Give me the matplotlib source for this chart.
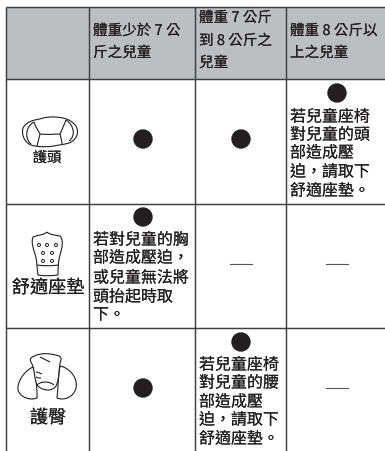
import matplotlib
matplotlib.use("Agg")
import matplotlib.pyplot as plt
from matplotlib.patches import Circle, Rectangle, Ellipse
from matplotlib.path import Path
from matplotlib.patches import PathPatch
import matplotlib.patheffects as pe

plt.rcParams['font.family'] = ['Noto Sans CJK TC', 'DejaVu Sans']
W, H = 385, 451
INK = '#231f20'
LINE = '#3f3f3f'
HEAD = '#bcbec0'

col_x = [6, 89, 195, 286]
row_y = [6.5, 79, 204, 328]

headers = [
    ["體重少於 7 公", "斤之兒童"],
    ["體重 7 公斤", "到 8 公斤之", "兒童"],
    ["體重 8 公斤以", "上之兒童"],
]
header_y = [[31, 53], [18, 41, 63], [31, 53]]
header_x = [93, 199, 290]

row_labels = ["護頭", "舒適座墊", "護臀"]
row_label_pos = [(47, 158), (48, 288), (48, 418)]
row_label_sizes = [10.3, 13.1, 13.1]

dots = [(143, 139), (241, 139), (337, 93), (143, 217), (143, 388), (241, 342)]
dashes = [(241, 264), (337, 264), (337, 388)]

notes = [
    (290, [117, 135, 153, 172, 191], ["若兒童座椅", "對兒童的頭", "部造成壓", "迫，請取下", "舒適座墊。"]),
    (93, [240, 258, 278, 297, 315], ["若對兒童的胸", "部造成壓迫，", "或兒童無法將", "頭抬起時取", "下。"]),
    (199, [365, 383, 402, 420, 439], ["若兒童座椅", "對兒童的腰", "部造成壓", "迫，請取下", "舒適座墊。"]),
]

fig = plt.figure(figsize=(W / 100, H / 100), dpi=100)
ax = fig.add_axes([0, 0, 1, 1])
ax.set_xlim(0, W)
ax.set_ylim(H, 0)
ax.axis('off')

ax.add_patch(Rectangle((col_x[0], row_y[0]), W - col_x[0], row_y[1] - row_y[0], fc=HEAD, ec='none', zorder=0))
for x in col_x:
    ax.plot([x, x], [row_y[0], H], color=LINE, lw=1.05, zorder=2, solid_capstyle='butt')
for y in row_y:
    ax.plot([col_x[0], W], [y, y], color=LINE, lw=1.05, zorder=2, solid_capstyle='butt')

heavier = [pe.withStroke(linewidth=0.08, foreground=INK)]
for x, ys, lines in zip(header_x, header_y, headers):
    for y, s in zip(ys, lines):
        ax.text(x, y, s, fontsize=10.5, color=INK, ha='left', va='center', path_effects=heavier)
for x, ys, lines in notes:
    for y, s in zip(ys, lines):
        ax.text(x, y, s, fontsize=11.5, color=INK, ha='left', va='center', path_effects=heavier)
for (x, y), s, fs in zip(row_label_pos, row_labels, row_label_sizes):
    ax.text(x, y, s, fontsize=fs, color=INK, ha='center', va='center', path_effects=heavier)

for x, y in dots:
    ax.add_patch(Circle((x, y), 9.7, fc=INK, ec='none', zorder=3))
for x, y in dashes:
    ax.plot([x - 11, x + 11], [y, y], color='#555555', lw=0.8)

def curve(pts, lw=0.8, closed=False):
    codes = [Path.MOVETO] + [Path.CURVE4] * (len(pts) - 1)
    ax.add_patch(PathPatch(Path(pts, codes), fc='white' if closed else 'none', ec=INK, lw=lw, zorder=3))

# headrest icon
curve([(40, 119), (50, 115), (68, 117), (73, 123),
       (80, 128), (79, 139), (69, 143),
       (62, 145), (58, 145), (54, 146),
       (47, 147), (40, 147), (35, 146),
       (25, 145), (21, 135), (23, 128),
       (26, 122), (33, 120), (40, 119)], closed=True)
curve([(34, 122), (36, 128), (38, 130), (40, 134), (50, 135), (56, 134), (60, 134)])
curve([(66, 120), (63, 127), (62, 130), (60, 134)])
curve([(40, 134), (39, 138), (38, 142), (37, 146)])
curve([(60, 134), (61, 138), (62, 141), (62, 145)])
curve([(34, 122), (26, 126), (24, 138), (31, 144)])
curve([(66, 120), (74, 125), (76, 136), (69, 141)])

# comfort pad icon
curve([(47, 232), (50, 235), (55, 235), (60, 236),
       (64, 240), (62, 248), (60, 255),
       (58, 262), (58, 270), (58, 275),
       (50, 276), (44, 276), (38, 275),
       (37, 268), (37, 260), (35, 254),
       (33, 248), (31, 242), (33, 237),
       (38, 235), (44, 235), (47, 232)], closed=True)
curve([(37, 265), (45, 266), (52, 266), (58, 265)])
for px, py in [(39, 245), (47, 245), (56, 245), (43, 253), (52, 253), (43, 261), (52, 261)]:
    ax.add_patch(Ellipse((px, py), 3, 3, fc='white', ec=INK, lw=0.7, zorder=4))

# hip icon
curve([(33, 367), (24, 371), (17, 382), (18, 390),
       (20, 397), (30, 401), (37, 398),
       (37, 390), (37, 378), (33, 367)], closed=True)
curve([(60, 366), (70, 368), (78, 378), (76, 388),
       (74, 397), (64, 401), (57, 398),
       (58, 390), (58, 378), (60, 366)], closed=True)
curve([(31, 358), (36, 354), (44, 353), (50, 354),
       (55, 355), (62, 355), (61, 360),
       (58, 368), (60, 378), (56, 386),
       (52, 392), (42, 391), (37, 385),
       (34, 378), (35, 370), (32, 364),
       (30, 361), (30, 359), (31, 358)], closed=True)
curve([(40, 357), (44, 359), (46, 360), (50, 362)])
curve([(36, 372), (38, 372), (39, 373), (42, 374)])
curve([(36, 377), (38, 378), (39, 378), (41, 378)])
curve([(37, 385), (41, 381), (49, 381), (54, 385)])

fig.savefig('out.png', dpi=100)
